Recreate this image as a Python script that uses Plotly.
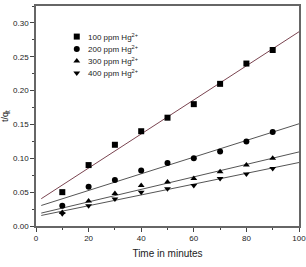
import numpy as np
import plotly.graph_objects as go

time_min = [10, 20, 30, 40, 50, 60, 70, 80, 90]
series_names = ["100 ppm Hg<sup>2+</sup>", "200 ppm Hg<sup>2+</sup>",
                "300 ppm Hg<sup>2+</sup>", "400 ppm Hg<sup>2+</sup>"]
t_qt_100 = [0.050, 0.090, 0.120, 0.140, 0.160, 0.180, 0.210, 0.240, 0.260]
t_qt_200 = [0.030, 0.058, 0.068, 0.082, 0.093, 0.100, 0.110, 0.125, 0.139]
t_qt_300 = [0.020, 0.037, 0.048, 0.060, 0.065, 0.070, 0.080, 0.090, 0.100]
t_qt_400 = [0.018, 0.030, 0.040, 0.050, 0.055, 0.060, 0.070, 0.077, 0.085]
fit_x = [2, 100]

all_series = [t_qt_100, t_qt_200, t_qt_300, t_qt_400]
symbols = ["square", "circle", "triangle-up", "triangle-down"]
line_colors = ["#7a4450", "#555555", "#555555", "#555555"]

# legend key layout (paper fractions)
leg_marker_x = 0.155
leg_text_x = 0.19
leg_rows_y = [0.861, 0.805, 0.750, 0.695]

fig = go.Figure()
for ys, col in zip(all_series, line_colors):
    k, b = np.polyfit(time_min, ys, 1)
    fx = np.array(fit_x, dtype=float)
    fig.add_trace(go.Scatter(x=fx, y=k * fx + b, mode="lines",
                             line=dict(color=col, width=1), showlegend=False,
                             hoverinfo="skip"))
for ys, name, sym in zip(all_series, series_names, symbols):
    fig.add_trace(go.Scatter(x=time_min, y=ys, mode="markers", name=name,
                             showlegend=False,
                             marker=dict(symbol=sym, size=6, color="black")))

# custom compact legend
for name, sym, ly in zip(series_names, symbols, leg_rows_y):
    fig.add_trace(go.Scatter(x=[leg_marker_x], y=[ly], mode="markers",
                             xaxis="x2", yaxis="y2", showlegend=False,
                             hoverinfo="skip",
                             marker=dict(symbol=sym, size=6, color="black")))
    fig.add_annotation(x=leg_text_x, y=ly, xref="paper", yref="paper",
                       text=name, showarrow=False, xanchor="left", yanchor="middle",
                       font=dict(family="Liberation Sans", size=8, color="#222222"))

axis_common = dict(showgrid=False, zeroline=False, showline=True,
                   linecolor="#666666", linewidth=1.5, mirror=True,
                   ticks="outside", ticklen=4, tickcolor="#444444", automargin=False,
                   ticklabeloverflow="allow",
                   tickfont=dict(family="Liberation Sans", size=8, color="#222222"))
fig.update_xaxes(range=[0, 100], dtick=20,
                 minor=dict(dtick=10, ticks="outside", ticklen=2, tickcolor="#444444"),
                 title=dict(text="Time in minutes",
                            font=dict(family="Liberation Sans", size=10, color="#222222"),
                            standoff=8),
                 **axis_common)
fig.update_yaxes(range=[0, 0.325], dtick=0.05, tickformat=".2f",
                 minor=dict(dtick=0.025, ticks="outside", ticklen=2, tickcolor="#444444"),
                 title=dict(text="t/q<sub>t</sub>",
                            font=dict(family="Liberation Sans", size=9, color="#222222"),
                            standoff=4),
                 **axis_common)
fig.update_layout(width=306, height=267,
                  margin=dict(l=36, r=7, t=6, b=41),
                  paper_bgcolor="white", plot_bgcolor="white",
                  xaxis2=dict(range=[0, 1], overlaying="x", visible=False),
                  yaxis2=dict(range=[0, 1], overlaying="y", visible=False),
                  showlegend=False)
fig.write_html("out.html")
